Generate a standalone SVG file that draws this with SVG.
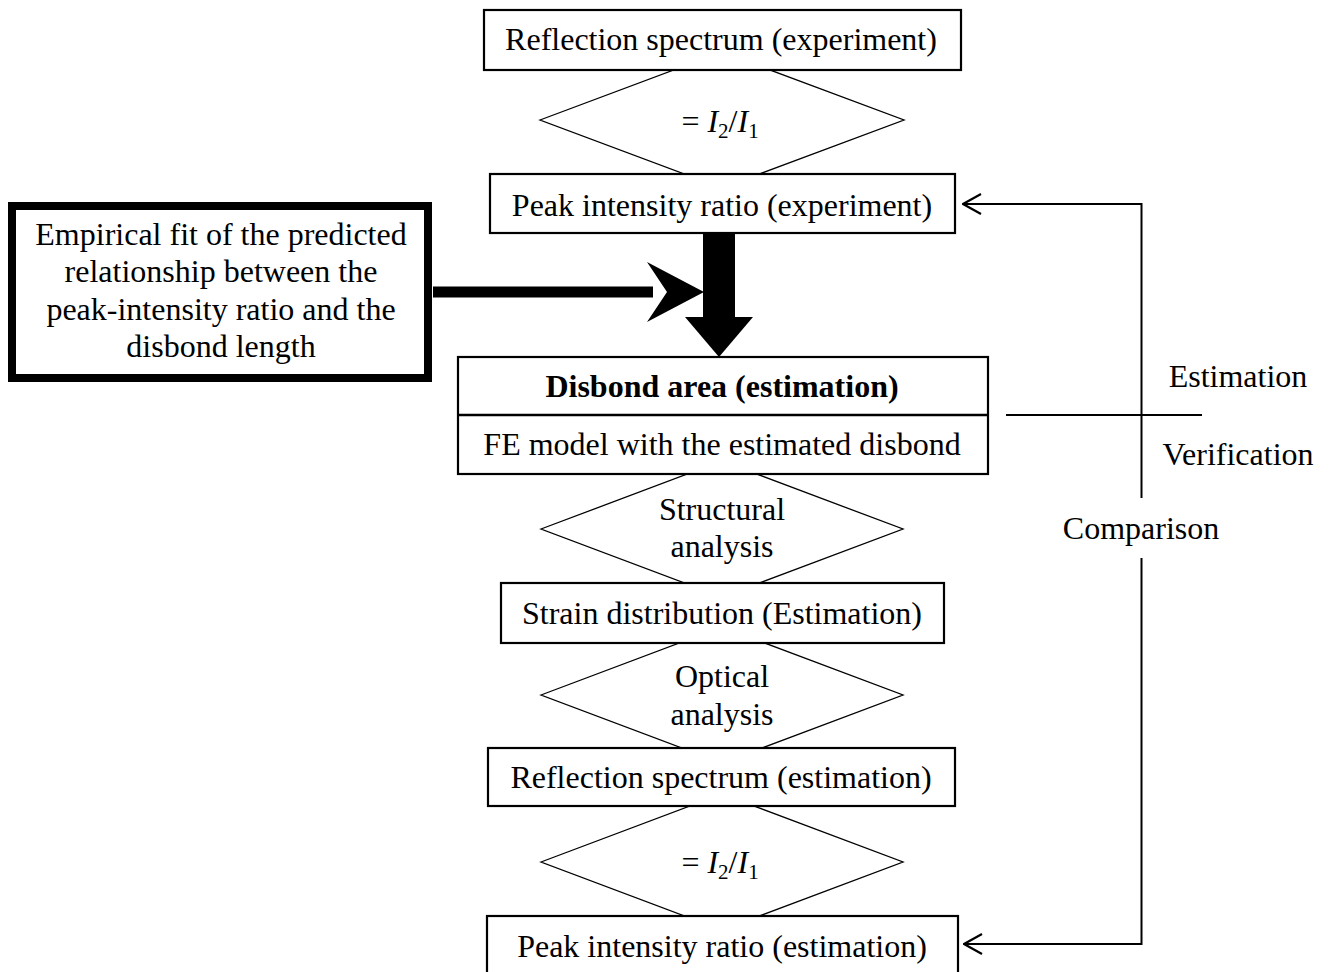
<svg xmlns="http://www.w3.org/2000/svg" width="1333" height="972" viewBox="0 0 1333 972">
<style>
text{font-family:"Liberation Serif","Times New Roman",serif;font-size:32px;fill:#000;text-anchor:middle}
.box{fill:#fff;stroke:#000;stroke-width:2.2}
.dia{fill:#fff;stroke:#000;stroke-width:1.3}
.sub{font-size:21px}
.it{font-style:italic}
.ln{fill:none;stroke:#000;stroke-width:2}
</style>
<defs>
<marker id="open" viewBox="0 0 20 22" refX="19" refY="11" markerWidth="20" markerHeight="22" markerUnits="userSpaceOnUse" orient="auto">
<path d="M1,1 L19,11 L1,21" fill="none" stroke="#000" stroke-width="2.2"/>
</marker>
</defs>
<rect width="1333" height="972" fill="#fff"/>

<g id="diamonds">
<polygon id="d1" class="dia" points="540,120 722,52 904,120 722,188"/>
<polygon id="d2" class="dia" points="541,529 722,461 903,529 722,597"/>
<polygon id="d3" class="dia" points="541,695 722,627 903,695 722,763"/>
<polygon id="d4" class="dia" points="541,862 722,794 903,862 722,930"/>
</g>

<g id="connectors">
<polyline class="ln" points="1141.5,498 1141.5,204 963,204" marker-end="url(#open)"/>
<polyline class="ln" points="1141.5,558 1141.5,944 964,944" marker-end="url(#open)"/>
<line class="ln" x1="1006" y1="415" x2="1202" y2="415"/>
<rect x="433" y="286.5" width="220" height="11" fill="#000"/>
<polygon points="647,262 704,292 647,322 667,292" fill="#000"/>
<rect x="703" y="232" width="32" height="86" fill="#000"/>
<polygon points="685,317 753,317 719,357" fill="#000"/>
</g>

<g id="n1"><rect class="box" x="484" y="10" width="477" height="60"/><text x="721" y="50">Reflection spectrum (experiment)</text></g>
<g id="d1label"><text x="720" y="132">= <tspan class="it">I</tspan><tspan class="sub" dy="6">2</tspan><tspan dy="-6">/</tspan><tspan class="it">I</tspan><tspan class="sub" dy="6">1</tspan></text></g>
<g id="n2"><rect class="box" x="490" y="174" width="465" height="59"/><text x="722" y="216">Peak intensity ratio (experiment)</text></g>
<g id="n0"><rect x="12" y="206" width="416" height="172" fill="#fff" stroke="#000" stroke-width="8"/>
<text x="221" y="245">Empirical fit of the predicted</text>
<text x="221" y="282">relationship between the</text>
<text x="221" y="320">peak-intensity ratio and the</text>
<text x="221" y="357">disbond length</text></g>
<g id="n3"><rect class="box" x="458" y="357" width="530" height="117" stroke-width="2.5"/><line x1="458" y1="415" x2="988" y2="415" stroke="#000" stroke-width="2.5"/>
<text x="722" y="397" font-weight="bold">Disbond area (estimation)</text>
<text x="722" y="455">FE model with the estimated disbond</text></g>
<g id="d2label"><text x="722" y="520">Structural</text><text x="722" y="557">analysis</text></g>
<g id="n4"><rect class="box" x="501" y="583" width="443" height="60"/><text x="722" y="624">Strain distribution (Estimation)</text></g>
<g id="d3label"><text x="722" y="687">Optical</text><text x="722" y="725">analysis</text></g>
<g id="n5"><rect class="box" x="488" y="748" width="467" height="58"/><text x="721" y="788">Reflection spectrum (estimation)</text></g>
<g id="d4label"><text x="720" y="873">= <tspan class="it">I</tspan><tspan class="sub" dy="6">2</tspan><tspan dy="-6">/</tspan><tspan class="it">I</tspan><tspan class="sub" dy="6">1</tspan></text></g>
<g id="n6"><rect class="box" x="487" y="916" width="471" height="60"/><text x="722" y="957">Peak intensity ratio (estimation)</text></g>

<g id="labels">
<text x="1238" y="387">Estimation</text>
<text x="1238" y="465">Verification</text>
<text x="1141" y="539">Comparison</text>
</g>
</svg>
